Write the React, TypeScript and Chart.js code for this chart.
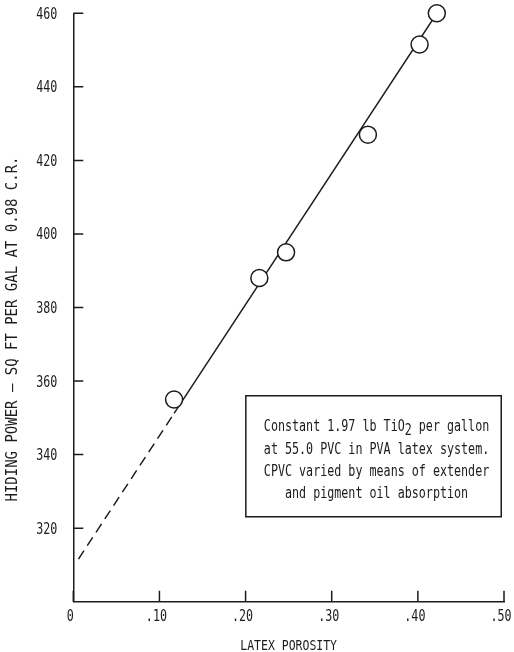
import React, { useEffect, useRef } from "react";
import { Chart, registerables } from "chart.js";

Chart.register(...registerables);

// ---- data ----
const porosity = [0.117, 0.216, 0.247, 0.342, 0.402, 0.422];
const hidingPower = [355, 388, 395, 427, 451.5, 460];
const fitPorosity = [0.117, 0.422];
const fitHiding = [351.2, 460];
const extrapPorosity = [0.006, 0.117];
const extrapHiding = [311.6, 351.2];
const xTickValues = [0, 0.1, 0.2, 0.3, 0.4, 0.5];
const xTickLabels = ["0", ".10", ".20", ".30", ".40", ".50"];
const yTickValues = [320, 340, 360, 380, 400, 420, 440, 460];
const yTickLabels = ["320", "340", "360", "380", "400", "420", "440", "460"];
const xTitle = "LATEX POROSITY";
const yTitle = "HIDING POWER \u2014 SQ FT PER GAL AT 0.98 C.R.";
const noteLine1 = ["Constant 1.97 lb TiO", "2", " per gallon"];
const noteLines = [
  "at 55.0 PVC in PVA latex system.",
  "CPVC varied by means of extender",
  "and pigment oil absorption",
];

// ---- styling ----
const INK = "#1c1c1c";
const MONO = "'DejaVu Sans Mono', monospace";
const NOTE_BOX = { x0: 0.2003, x1: 0.4968, yTop: 356, yBottom: 323.1 };

function drawCondensed(
  ctx: CanvasRenderingContext2D,
  text: string,
  x: number,
  y: number,
  size: number,
  sx: number,
  align: CanvasTextAlign
) {
  ctx.save();
  ctx.translate(x, y);
  ctx.scale(sx, 1);
  ctx.font = `${size}px ${MONO}`;
  ctx.textAlign = align;
  ctx.textBaseline = "alphabetic";
  ctx.fillText(text, 0, 0);
  ctx.restore();
}

const decorPlugin = {
  id: "decor",
  afterDraw(chart: any) {
    const { ctx, chartArea, scales } = chart;
    const xs = scales.x;
    const ys = scales.y;
    ctx.save();
    ctx.strokeStyle = INK;
    ctx.fillStyle = INK;
    ctx.lineWidth = 1.5;

    // inward tick marks
    ctx.beginPath();
    xTickValues.forEach((v) => {
      const px = xs.getPixelForValue(v);
      ctx.moveTo(px, chartArea.bottom);
      ctx.lineTo(px, chartArea.bottom - 11);
    });
    yTickValues.forEach((v) => {
      const py = ys.getPixelForValue(v);
      ctx.moveTo(chartArea.left, py);
      ctx.lineTo(chartArea.left + 10, py);
    });
    ctx.stroke();

    // tick labels (condensed typewriter style)
    xTickValues.forEach((v, i) => {
      const px = xs.getPixelForValue(v);
      drawCondensed(ctx, xTickLabels[i], px - 3, chartArea.bottom + 19, 15, 0.78, "center");
    });
    yTickValues.forEach((v, i) => {
      const py = ys.getPixelForValue(v);
      drawCondensed(ctx, yTickLabels[i], chartArea.left - 16, py + 5.5, 15, 0.78, "right");
    });

    // axis titles
    const cx = (chartArea.left + chartArea.right) / 2;
    drawCondensed(ctx, xTitle, cx, 650, 14, 0.82, "center");
    ctx.save();
    ctx.font = `15px ${MONO}`;
    const yw = ctx.measureText(yTitle).width;
    const ysx = 345 / yw;
    ctx.translate(17, 329);
    ctx.rotate(-Math.PI / 2);
    drawCondensed(ctx, yTitle, 0, 0, 15, ysx, "center");
    ctx.restore();

    // note box
    const bx0 = xs.getPixelForValue(NOTE_BOX.x0);
    const bx1 = xs.getPixelForValue(NOTE_BOX.x1);
    const by0 = ys.getPixelForValue(NOTE_BOX.yTop);
    const by1 = ys.getPixelForValue(NOTE_BOX.yBottom);
    ctx.fillStyle = "#ffffff";
    ctx.fillRect(bx0, by0, bx1 - bx0, by1 - by0);
    ctx.strokeRect(bx0, by0, bx1 - bx0, by1 - by0);
    ctx.fillStyle = INK;

    const size = 15;
    const sx = 0.78;
    const mid = (bx0 + bx1) / 2 + 3;
    ctx.font = `${size}px ${MONO}`;
    const widths = noteLine1.map((t) => ctx.measureText(t).width * sx);
    const total = widths.reduce((a, b) => a + b, 0);
    let px = mid - total / 2;
    const base1 = by0 + 35;
    noteLine1.forEach((t, i) => {
      drawCondensed(ctx, t, px, base1 + (i === 1 ? 4 : 0), size, sx, "left");
      px += widths[i];
    });
    noteLines.forEach((t, i) => {
      drawCondensed(ctx, t, mid, base1 + 23 + i * 22.3, size, sx, "center");
    });
    ctx.restore();
  },
};

export default function App() {
  const canvasRef = useRef<HTMLCanvasElement | null>(null);

  useEffect(() => {
    if (!canvasRef.current) return;
    const chart = new Chart(canvasRef.current, {
      type: "scatter",
      data: {
        datasets: [
          {
            data: porosity.map((x, i) => ({ x, y: hidingPower[i] })),
            pointRadius: 8.5,
            pointBorderWidth: 1.5,
            pointBackgroundColor: "#ffffff",
            pointBorderColor: INK,
            showLine: false,
            clip: false as any,
          },
          {
            data: fitPorosity.map((x, i) => ({ x, y: fitHiding[i] })),
            showLine: true,
            pointRadius: 0,
            borderColor: INK,
            borderWidth: 1.5,
            fill: false,
          },
          {
            data: extrapPorosity.map((x, i) => ({ x, y: extrapHiding[i] })),
            showLine: true,
            pointRadius: 0,
            borderColor: INK,
            borderWidth: 1.5,
            borderDash: [10, 6],
            fill: false,
          },
        ],
      },
      options: {
        animation: false,
        responsive: false,
        devicePixelRatio: 1,
        layout: { padding: { top: 13.3, right: 7.3, left: 0, bottom: 0 } },
        plugins: {
          legend: { display: false },
          tooltip: { enabled: false },
        },
        scales: {
          x: {
            type: "linear",
            min: 0,
            max: 0.5,
            grid: { display: false, drawTicks: false },
            border: { display: true, color: INK, width: 1.5 },
            ticks: { display: false },
            afterBuildTicks: (s: any) => {
              s.ticks = xTickValues.map((value) => ({ value }));
            },
            afterFit: (s: any) => {
              s.height = 50.3;
              s.paddingLeft = 0;
              s.paddingRight = 0;
            },
          },
          y: {
            type: "linear",
            min: 300,
            max: 460,
            grid: { display: false, drawTicks: false },
            border: { display: true, color: INK, width: 1.5 },
            ticks: { display: false },
            afterBuildTicks: (s: any) => {
              s.ticks = yTickValues.map((value) => ({ value }));
            },
            afterFit: (s: any) => {
              s.width = 73.3;
              s.paddingTop = 0;
              s.paddingBottom = 0;
            },
          },
        },
      },
      plugins: [decorPlugin],
    } as any);
    return () => chart.destroy();
  }, []);

  return (
    <div
      style={{
        position: "fixed",
        left: 0,
        top: 0,
        width: 514,
        height: 652,
        background: "#ffffff",
      }}
    >
      <canvas ref={canvasRef} width={514} height={652} />
    </div>
  );
}
